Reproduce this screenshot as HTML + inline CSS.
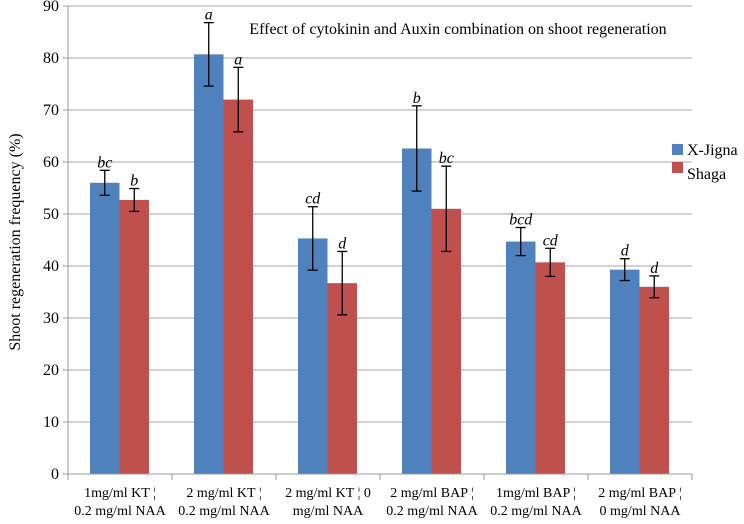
<!DOCTYPE html>
<html><head><meta charset="utf-8"><style>
body{margin:0;background:#fff;}
svg, svg text{font-family:"Liberation Serif","Times New Roman",serif;}
</style></head><body>
<svg id="chart" width="744" height="519" viewBox="0 0 744 519" xmlns="http://www.w3.org/2000/svg" font-family="Liberation Serif, serif">
<g id="grid"></g>
<g id="bars"></g>
<g id="axes"></g>
<text x="458" y="34" text-anchor="middle" font-size="16" font-family="Liberation Serif, serif">Effect of cytokinin and Auxin combination on shoot regeneration</text>
<text transform="translate(20,242) rotate(-90)" text-anchor="middle" font-size="16" font-family="Liberation Serif, serif">Shoot regeneration frequency (%)</text>
<g>
<rect x="672" y="144" width="11" height="11" fill="#4f81bd"/>
<text x="687" y="155" font-size="16" font-family="Liberation Serif, serif">X-Jigna</text>
<rect x="672" y="162" width="11" height="11" fill="#c0504d"/>
<text x="687" y="179" font-size="16" font-family="Liberation Serif, serif">Shaga</text>
</g>
</svg>
<script>
const categories1 = ["1mg/ml KT","2 mg/ml KT","2 mg/ml KT","2 mg/ml BAP","1mg/ml BAP","2 mg/ml BAP"];
const categories2 = ["0.2 mg/ml NAA","0.2 mg/ml NAA","mg/ml NAA","0.2 mg/ml NAA","0.2 mg/ml NAA","0 mg/ml NAA"];
const categoriesSuffix = ["","","0","","",""];
const xJigna = [56, 80.7, 45.3, 62.6, 44.7, 39.3];
const xJignaErr = [2.4, 6.1, 6.1, 8.2, 2.7, 2.1];
const xJignaLetters = ["bc","a","cd","b","bcd","d"];
const shaga = [52.7, 72, 36.7, 51, 40.7, 36];
const shagaErr = [2.2, 6.2, 6.1, 8.2, 2.7, 2.1];
const shagaLetters = ["b","a","d","bc","cd","d"];
const yTicks = [0,10,20,30,40,50,60,70,80,90];

const NS="http://www.w3.org/2000/svg";
const FF="Liberation Serif, serif";
const X0=68, GW=104, Y0=474, PX=5.2, BW=29.5, OFF=22;
const y = v => Y0 - v*PX;
const gx = i => X0 + i*GW;
function mk(tag, attrs, parent){const e=document.createElementNS(NS,tag);for(const k in attrs)e.setAttribute(k,attrs[k]);parent.appendChild(e);return e;}
const grid=document.getElementById('grid'), bars=document.getElementById('bars'), axes=document.getElementById('axes');
yTicks.forEach(t=>{
  if(t>0){const l=mk('line',{x1:X0,x2:gx(6),y1:y(t),y2:y(t),stroke:'#b8b8b8','stroke-width':1.3},grid);
  
  }
  const tk=mk('line',{x1:X0-5,x2:X0,y1:y(t),y2:y(t),stroke:'#999'},axes);
  
  
  const tx=mk('text',{x:X0-9,y:y(t)+5,'text-anchor':'end','font-size':16,'font-family':FF},axes);
  
  
  tx.textContent=t;
});
const ya=mk('line',{x1:X0,x2:X0,y1:y(90),y2:Y0,stroke:'#999'},axes);


const xa=mk('line',{x1:X0,x2:gx(6),y1:Y0,y2:Y0,stroke:'#999'},axes);


for(let i=0;i<=6;i++){const t=mk('line',{x1:gx(i),x2:gx(i),y1:Y0,y2:Y0+6,stroke:'#999'},axes);

}
function series(vals, errs, letters, color, shift, name){
  vals.forEach((v,i)=>{
    const bx=gx(i)+OFF+shift;
    const r=mk('rect',{x:bx,y:y(v),width:BW,height:v*PX,fill:color},bars);
    
    
    const cx=bx+BW/2, top=Math.max(y(v+errs[i]),0), bot=y(v-errs[i]);
    const g=mk('g',{stroke:'#000','stroke-width':1.3},bars);
    
    
    mk('line',{x1:cx,x2:cx,y1:top,y2:bot},g);
    mk('line',{x1:cx-5,x2:cx+5,y1:top,y2:top},g);
    mk('line',{x1:cx-5,x2:cx+5,y1:bot,y2:bot},g);
    const t=mk('text',{x:cx,y:y(v+errs[i])-3,'text-anchor':'middle','font-size':16,'font-style':'italic','font-family':FF},bars);
    
    
    t.textContent=letters[i];
  });
}
series(xJigna,xJignaErr,xJignaLetters,'#4f81bd',0,'x-jigna');
series(shaga,shagaErr,shagaLetters,'#c0504d',BW,'shaga');
for(let i=0;i<6;i++){
  const cx=gx(i)+GW/2;
  const t1=mk('text',{x:cx,y:497,'text-anchor':'middle','font-size':14,'font-family':FF},axes);
  
  
  t1.textContent=categories1[i]+' \u00a6 '+categoriesSuffix[i];
  const t2=mk('text',{x:cx,y:515,'text-anchor':'middle','font-size':14,'font-family':FF},axes);
  
  
  t2.textContent=categories2[i];
}
</script>
</body></html>
